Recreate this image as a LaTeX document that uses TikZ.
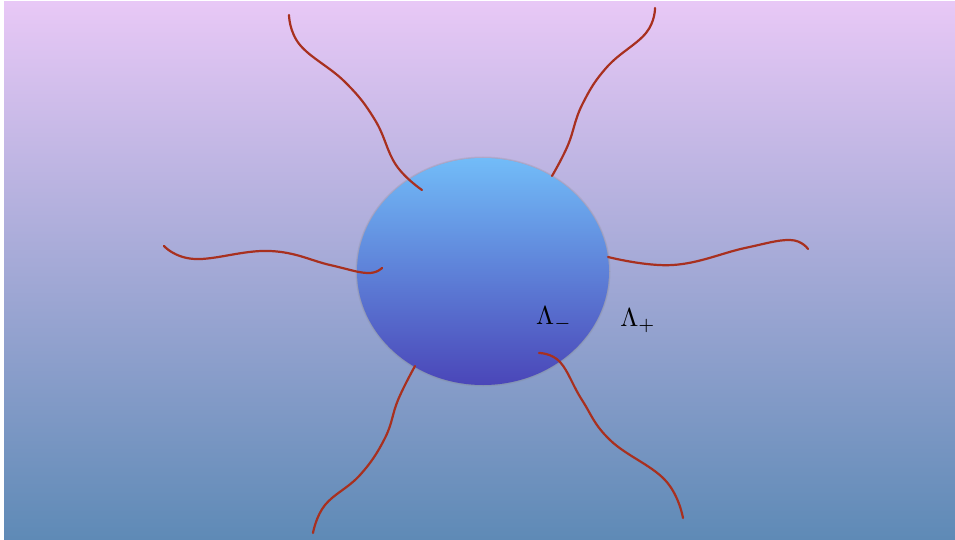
\documentclass[tikz,border=0pt]{standalone}
\begin{document}
\begin{tikzpicture}[x=1pt,y=-1pt]
    % Define colours
    \definecolor{bgTop}{HTML}{E8C8F6}
    \definecolor{bgBottom}{HTML}{5E8AB6}
    \definecolor{cellTop}{HTML}{72BCF8}
    \definecolor{cellBottom}{HTML}{4A46B8}
    \definecolor{tailColour}{HTML}{A8301F}

    % Define styles
    \tikzset{tail/.style={draw=tailColour, line width=2.2pt, line cap=round},
             charge/.style={scale=2.6, inner sep=0pt}}

    % Fix the canvas
    \useasboundingbox (0,0) rectangle (955,540);
    \shade[top color=bgTop, bottom color=bgBottom] (4,2) rectangle (955,540);

    % Centre of the cell
    \coordinate (O) at (483,271.5);

    % Draw the cell with its rim
    \fill[gray, opacity=0.2] (O) ellipse [x radius=127.5, y radius=115];
    \fill[gray, opacity=0.2] (O) ellipse [x radius=126.5, y radius=114];
    \shade[top color=cellTop, bottom color=cellBottom] (O) ellipse [x radius=126, y radius=113.5];

    % Draw the tails
    \draw[tail] plot[smooth, tension=0.7] coordinates {(289,15) (300,45) (345,82) (375,120) (396,165) (422,190)};
    \draw[tail] plot[smooth, tension=0.7] coordinates {(655,8) (646,33) (607,67) (582,105) (568,145) (552,176)};
    \draw[tail] plot[smooth, tension=0.7] coordinates {(164,246) (195,259) (270,251) (330,265) (367,273) (382,268)};
    \draw[tail] plot[smooth, tension=0.7] coordinates {(608,257) (673,265) (745,248) (790,240) (808,249)};
    \draw[tail] plot[smooth, tension=0.7] coordinates {(415,366) (398,400) (385,438) (360,475) (325,505) (313,533)};
    \draw[tail] plot[smooth, tension=0.7] coordinates {(539,353) (560,362) (582,400) (610,440) (665,480) (683,518)};

    % Label the charges
    \node[charge] (lamMinus) at (554,319) {$\Lambda_-$};
    \node[charge] (lamPlus) at (638,321) {$\Lambda_+$};

\end{tikzpicture}
\end{document}
